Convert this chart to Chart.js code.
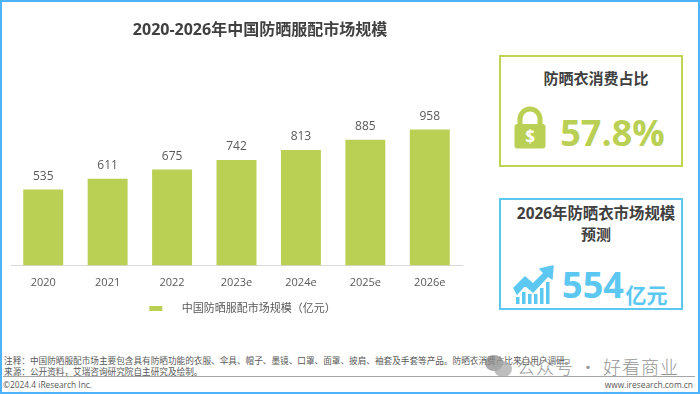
<!DOCTYPE html>
<html lang="zh"><head><meta charset="utf-8">
<script src="https://cdn.jsdelivr.net/npm/chart.js@4"></script>
<style>
html,body{margin:0;padding:0;background:#fff}
#page{position:relative;width:700px;height:394px;overflow:hidden;background:#fff;font-family:"Open Sans","Noto Sans CJK SC",sans-serif;color:#404040}
#frame{position:absolute;left:0;top:0;width:696px;height:390px;border:2px solid #4fb3fb;pointer-events:none}
#wrap{position:absolute;left:0;top:0;width:473px;height:324px}
#c{display:block}
.t{position:absolute;white-space:nowrap;line-height:1;font-family:"Open Sans","Noto Sans CJK SC",sans-serif}
.c{transform:translate(-50%,-50%)}
.box{position:absolute;box-sizing:border-box;border:2px solid}
svg{position:absolute}
</style></head><body>
<div id="page">
<div id="wrap"><canvas id="c" width="473" height="324"></canvas></div>
<div class="t c" style="left:260px;top:29px;font-size:16px;font-weight:700">2020-2026年中国防晒服配市场规模</div>

<div class="box" style="left:499px;top:55px;width:184px;height:112px;border-color:#bdd455"></div>
<div class="t c" style="left:596px;top:78px;font-size:15px;font-weight:700">防晒衣消费占比</div>
<svg style="left:513px;top:106px" width="34" height="43" viewBox="0 0 34 43">
<path d="M7 20V13a10 10 0 0 1 20 0V20" fill="none" stroke="#bad054" stroke-width="5"/>
<rect x="1.500" y="18" width="31" height="24.500" rx="3" fill="#bad054"/>
<text x="17" y="37" text-anchor="middle" font-family="Open Sans" font-weight="700" font-size="17" fill="#fff">$</text></svg>
<div class="t c" style="left:612.500px;top:133px;font-size:36px;font-weight:700;color:#bad054">57.8%</div>

<div class="box" style="left:499px;top:198px;width:184px;height:112px;border-color:#5cc8f2"></div>
<div class="t c" style="left:596px;top:214px;font-size:15.400px;font-weight:700">2026年防晒衣市场规模</div>
<div class="t c" style="left:596px;top:234px;font-size:15px;font-weight:700">预测</div>
<svg style="left:511px;top:264px" width="44" height="41" viewBox="0 0 44 41">
<path d="M3 24 L14 13 L22 20 L33 9 L29 5 L42 2 L41 15 L37 12 L22 28 L14 21 L6 30 Z" fill="#5cc8f2" stroke="#5cc8f2" stroke-linejoin="round" stroke-width="1.500"/>
<g fill="#5cc8f2"><rect x="5" y="33" width="3.500" height="7"/><rect x="11" y="28" width="3.500" height="12"/><rect x="17" y="30" width="3.500" height="10"/><rect x="23" y="30" width="3.500" height="10"/><rect x="29" y="24" width="3.500" height="16"/><rect x="35" y="18" width="3.500" height="22"/></g></svg>
<div class="t c" style="left:593px;top:285px;font-size:36px;font-weight:700;color:#5cc8f2">554</div>
<div class="t c" style="left:646.500px;top:294px;font-size:21px;font-weight:700;color:#5cc8f2;font-family:'Noto Sans CJK SC'">亿元</div>

<div class="t" style="left:4px;top:356.500px;font-size:8.650px;color:#595959">注释：中国防晒服配市场主要包含具有防晒功能的衣服、伞具、帽子、墨镜、口罩、面罩、披肩、袖套及手套等产品。防晒衣消费占比来自用户调研。</div>
<div class="t" style="left:4px;top:367.500px;font-size:8.650px;color:#595959">来源：公开资料，艾瑞咨询研究院自主研究及绘制。</div>
<div style="position:absolute;left:3px;top:376px;width:692px;height:1px;background:#a6a6a6"></div>
<div class="t" style="left:3px;top:381px;font-size:8.400px;color:#595959">©2024.4 iResearch Inc.</div>
<div class="t" style="right:7px;top:381px;font-size:8.400px;color:#595959">www.iresearch.com.cn</div>

<svg style="left:484px;top:354px" width="30" height="24" viewBox="0 0 30 24">
<ellipse cx="10" cy="9" rx="9" ry="8" fill="#8a8a8a" fill-opacity=".75"/>
<ellipse cx="19" cy="15" rx="9" ry="8" fill="#a8a8a8" fill-opacity=".75"/></svg>
<div class="t" style="left:517px;top:357px;font-size:18px;letter-spacing:1px;color:#8c8c8c;font-family:'Noto Sans CJK SC';font-weight:300;opacity:.9">公众号 · 好看商业</div>
<div id="frame"></div>
</div>
<script>
const categories = ["2020","2021","2022","2023e","2024e","2025e","2026e"];
const marketSize = [535,611,675,742,813,885,958];
const seriesName = "中国防晒服配市场规模（亿元）";
const barColor = "#bad054";

// legend marker: filled swatch with transparent sides to place it and set the text gap
const swatch = document.createElement("canvas");
swatch.width = 39; swatch.height = 5;
const sc = swatch.getContext("2d");
sc.fillStyle = barColor; sc.fillRect(12,0,13,5);

const valueLabels = {
  id:"valueLabels",
  afterDatasetsDraw(chart){
    const {ctx} = chart;
    ctx.save();
    ctx.font = '12px "Open Sans","Noto Sans CJK SC"';
    ctx.fillStyle = "#595959";
    ctx.textAlign = "center";
    ctx.textBaseline = "middle";
    chart.getDatasetMeta(0).data.forEach((bar,i)=>{
      ctx.fillText(String(marketSize[i]), bar.x, bar.y-13);
    });
    ctx.restore();
  }
};

new Chart(document.getElementById("c"),{
  type:"bar",
  data:{labels:categories,datasets:[{label:seriesName,data:marketSize,backgroundColor:barColor,categoryPercentage:1,barPercentage:0.62,borderWidth:0}]},
  plugins:[valueLabels],
  options:{
    responsive:false,animation:false,
    layout:{padding:{left:11,right:11,top:95,bottom:0}},
    plugins:{
      title:{display:false},tooltip:{enabled:false},
      legend:{display:true,position:"bottom",
        labels:{usePointStyle:true,pointStyle:swatch,pointStyleWidth:39,boxHeight:5,padding:7.5,color:"#595959",
          font:{size:11,family:'"Open Sans","Noto Sans CJK SC"'}}}
    },
    scales:{
      x:{grid:{display:false},border:{display:true,color:"#d9d9d9",width:1},
        ticks:{color:"#595959",padding:3,maxRotation:0,font:{size:11,family:'"Open Sans","Noto Sans CJK SC"'}},
        afterFit(a){a.height=30;}},
      y:{display:false,min:0,max:1200}
    }
  }
});
</script>
</body></html>
